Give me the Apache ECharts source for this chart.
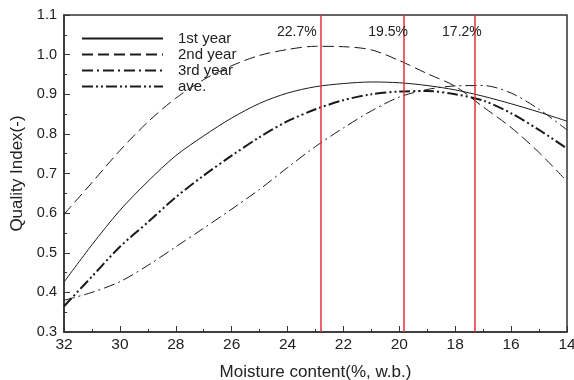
<!DOCTYPE html>
<html>
<head>
<meta charset="utf-8">
<script src="https://cdn.jsdelivr.net/npm/echarts@6/dist/echarts.min.js"></script>
<style>
  html, body { margin: 0; padding: 0; background: #fff; }
  #chart { width: 574px; height: 380px; }
</style>
</head>
<body>
<div id="chart"></div>
<script>
// moisture content (%, w.b.) at 1% steps
const moisture = [32, 31, 30, 29, 28, 27, 26, 25, 24, 23, 22, 21, 20, 19, 18, 17, 16, 15, 14];

const year1 = [0.426, 0.52, 0.607, 0.68, 0.745, 0.795, 0.84, 0.877, 0.903, 0.919, 0.927, 0.931, 0.929, 0.922, 0.911, 0.895, 0.876, 0.855, 0.832];
const year2 = [0.597, 0.677, 0.758, 0.83, 0.89, 0.937, 0.972, 0.998, 1.013, 1.021, 1.02, 1.012, 0.985, 0.952, 0.92, 0.868, 0.816, 0.753, 0.68];
const year3 = [0.38, 0.40, 0.427, 0.468, 0.515, 0.562, 0.61, 0.66, 0.715, 0.768, 0.815, 0.858, 0.893, 0.912, 0.921, 0.922, 0.903, 0.862, 0.81];
const average = [0.365, 0.44, 0.515, 0.577, 0.64, 0.695, 0.745, 0.792, 0.832, 0.862, 0.885, 0.9, 0.907, 0.908, 0.9, 0.884, 0.852, 0.81, 0.763];

// red reference lines and their labels
const refLines = [22.8, 19.85, 17.3];
const refLabels = ['22.7%', '19.5%', '17.2%'];
const refLabelPos = [23.67, 20.4, 17.76];

const seriesNames = ['1st year', '2nd year', '3rd year', 'ave.'];
const ink = '#1a1a1a';
const axisInk = '#333';
const font = 'Liberation Sans, Arial, sans-serif';

const chart = echarts.init(document.getElementById('chart'), null, { renderer: 'canvas' });

function lineSeries(name, values, dash, width) {
    return {
        name: name,
        type: 'line',
        data: moisture.map((m, i) => [m, values[i]]),
        smooth: 0.3,
        symbol: 'none',
        silent: true,
        lineStyle: { color: ink, width: width, type: dash },
        itemStyle: { color: ink },
        z: 3
    };
}

const series = [
    lineSeries(seriesNames[0], year1, 'solid', 1),
    lineSeries(seriesNames[1], year2, [11, 5], 1),
    lineSeries(seriesNames[2], year3, [11, 4, 2, 4], 1),
    lineSeries(seriesNames[3], average, [11, 3, 2, 3, 2, 3], 2)
];

// red verticals + labels ride on the first series
series[0].markLine = {
    silent: true,
    symbol: 'none',
    label: { show: false },
    lineStyle: { color: '#e2323a', width: 1.5, type: 'solid' },
    data: refLines.map(x => ({ xAxis: x }))
};
series[0].markPoint = {
    silent: true,
    symbol: 'circle',
    symbolSize: 0,
    label: {
        show: true,
        position: 'inside',
        color: '#222',
        fontFamily: font,
        fontSize: 14,
        formatter: p => p.value
    },
    data: refLabelPos.map((x, i) => ({ coord: [x, 1.058], value: refLabels[i] }))
};

chart.setOption({
    animation: false,
    backgroundColor: '#fff',
    textStyle: { fontFamily: font },
    grid: {
        left: 64,
        right: 7,
        top: 15,
        bottom: 48,
        outerBoundsMode: 'none',
        show: true,
        borderColor: axisInk,
        borderWidth: 1.5,
        backgroundColor: 'transparent'
    },
    legend: {
        orient: 'vertical',
        left: 76,
        top: 26,
        itemWidth: 81,
        itemHeight: 14,
        itemGap: 1,
        data: seriesNames,
        itemStyle: { color: 'transparent', borderColor: 'transparent', borderWidth: 0 },
        textStyle: { color: '#222', fontSize: 15, lineHeight: 14, padding: [0, 0, 0, 10] }
    },
    xAxis: {
        type: 'value',
        inverse: true,
        min: 14,
        max: 32,
        interval: 2,
        name: 'Moisture content(%, w.b.)',
        nameLocation: 'middle',
        nameGap: 32,
        nameTextStyle: { color: '#222', fontSize: 17 },
        axisLine: { show: true, lineStyle: { color: axisInk, width: 1.5 } },
        axisTick: { show: true, inside: true, length: 6, lineStyle: { color: axisInk } },
        minorTick: { show: true, splitNumber: 2, length: 3, lineStyle: { color: axisInk } },
        axisLabel: { color: '#222', fontSize: 15.5, margin: 5 },
        splitLine: { show: false }
    },
    yAxis: {
        type: 'value',
        min: 0.3,
        max: 1.1,
        interval: 0.1,
        name: 'Quality Index(-)',
        nameLocation: 'middle',
        nameGap: 37,
        nameTextStyle: { color: '#222', fontSize: 17 },
        axisLine: { show: true, lineStyle: { color: axisInk, width: 1.5 } },
        axisTick: { show: true, inside: true, length: 6, lineStyle: { color: axisInk } },
        minorTick: { show: true, splitNumber: 2, length: 3, lineStyle: { color: axisInk } },
        axisLabel: { color: '#222', fontSize: 14.5, margin: 7, formatter: v => v.toFixed(1) },
        splitLine: { show: false }
    },
    series: series
});
</script>
</body>
</html>
